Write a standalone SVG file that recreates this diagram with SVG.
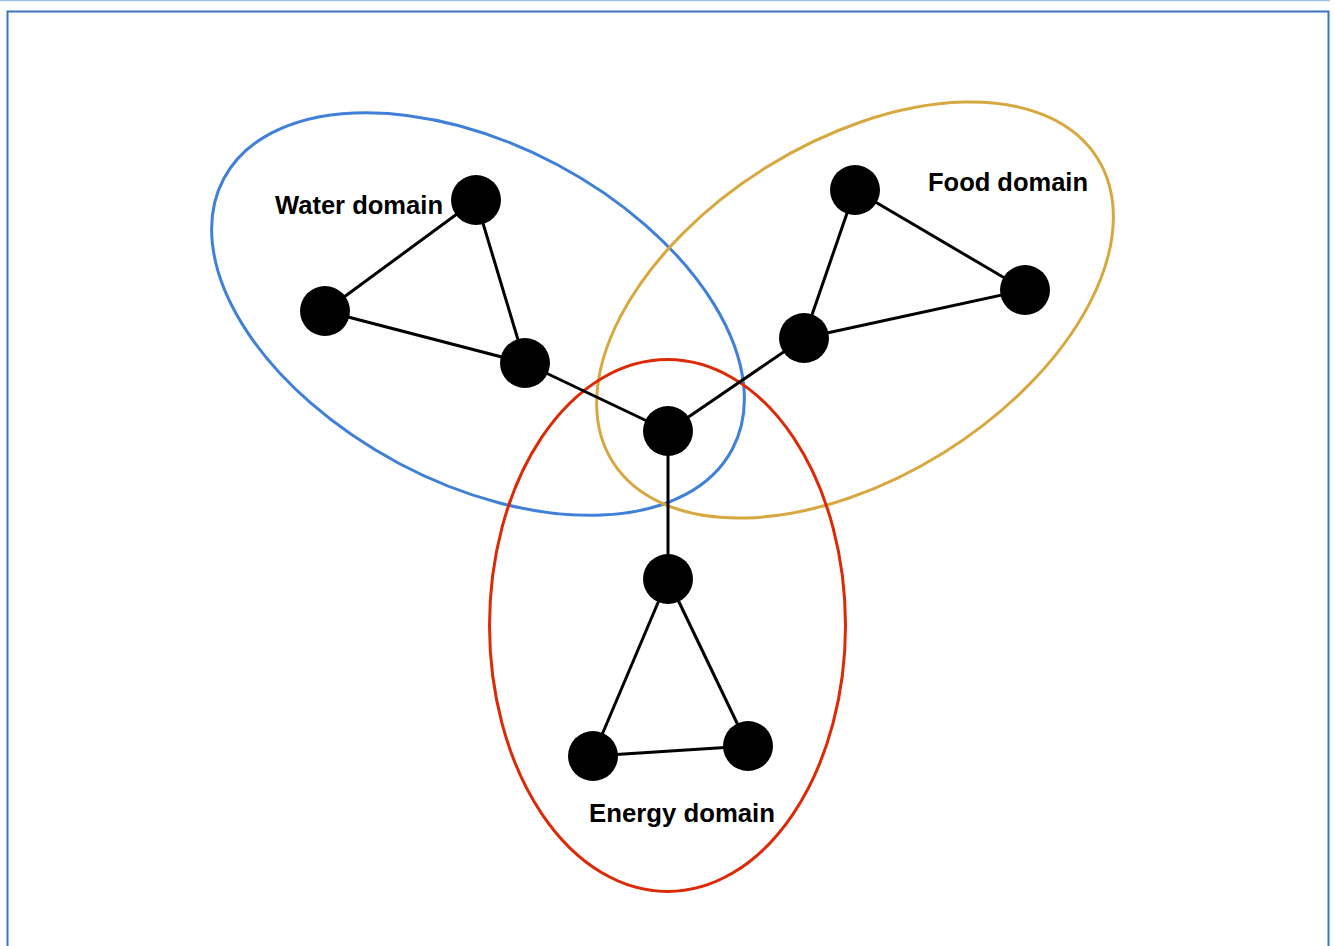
<svg xmlns="http://www.w3.org/2000/svg" width="1335" height="946" viewBox="0 0 1335 946">
<style>
.dom{fill:none;stroke-width:3}
.node{fill:#000}
.edge{stroke:#000;stroke-width:3;fill:none}
.lbl{font-family:"Liberation Sans",Arial,sans-serif;font-weight:bold;font-size:25px;fill:#000}
</style>
<rect x="0" y="0" width="1335" height="946" fill="#fff"/>
<line x1="0" y1="0.5" x2="1330" y2="0.5" stroke="#a4c4e6" stroke-width="1.5"/>
<rect x="7.5" y="11.5" width="1321" height="945" fill="none" stroke="#3a74c2" stroke-width="2"/>
<g id="water-domain">
<ellipse class="dom" cx="478" cy="314" rx="288" ry="169" transform="rotate(28 478 314)" stroke="#4080d8"/>
<text class="lbl" x="275" y="214" textLength="168" lengthAdjust="spacingAndGlyphs">Water domain</text>
</g>
<g id="food-domain">
<ellipse class="dom" cx="855" cy="310" rx="286" ry="168" transform="rotate(-32 855 310)" stroke="#d8a840"/>
<text class="lbl" x="928" y="191" textLength="160" lengthAdjust="spacingAndGlyphs">Food domain</text>
</g>
<g id="energy-domain">
<ellipse class="dom" cx="667.5" cy="625.5" rx="178" ry="266" stroke="#dc2a06"/>
<text class="lbl" x="589" y="822" textLength="186" lengthAdjust="spacingAndGlyphs">Energy domain</text>
</g>
<g id="connectors">
<line class="edge" x1="476" y1="200" x2="325" y2="311"/>
<line class="edge" x1="476" y1="200" x2="525" y2="363"/>
<line class="edge" x1="325" y1="311" x2="525" y2="363"/>
<line class="edge" x1="525" y1="363" x2="668" y2="431"/>
<line class="edge" x1="855" y1="190" x2="1025" y2="290"/>
<line class="edge" x1="855" y1="190" x2="804" y2="338"/>
<line class="edge" x1="804" y1="338" x2="1025" y2="290"/>
<line class="edge" x1="804" y1="338" x2="668" y2="431"/>
<line class="edge" x1="668" y1="431" x2="668" y2="579"/>
<line class="edge" x1="668" y1="579" x2="593" y2="756"/>
<line class="edge" x1="668" y1="579" x2="748" y2="746"/>
<line class="edge" x1="593" y1="756" x2="748" y2="746"/>
</g>
<g id="n-w1"><circle class="node" cx="476" cy="200" r="25"/></g>
<g id="n-w2"><circle class="node" cx="325" cy="311" r="25"/></g>
<g id="n-w3"><circle class="node" cx="525" cy="363" r="25"/></g>
<g id="n-f1"><circle class="node" cx="855" cy="190" r="25"/></g>
<g id="n-f2"><circle class="node" cx="1025" cy="290" r="25"/></g>
<g id="n-f3"><circle class="node" cx="804" cy="338" r="25"/></g>
<g id="n-c"><circle class="node" cx="668" cy="431" r="25"/></g>
<g id="n-e1"><circle class="node" cx="668" cy="579" r="25"/></g>
<g id="n-e2"><circle class="node" cx="593" cy="756" r="25"/></g>
<g id="n-e3"><circle class="node" cx="748" cy="746" r="25"/></g>
</svg>
